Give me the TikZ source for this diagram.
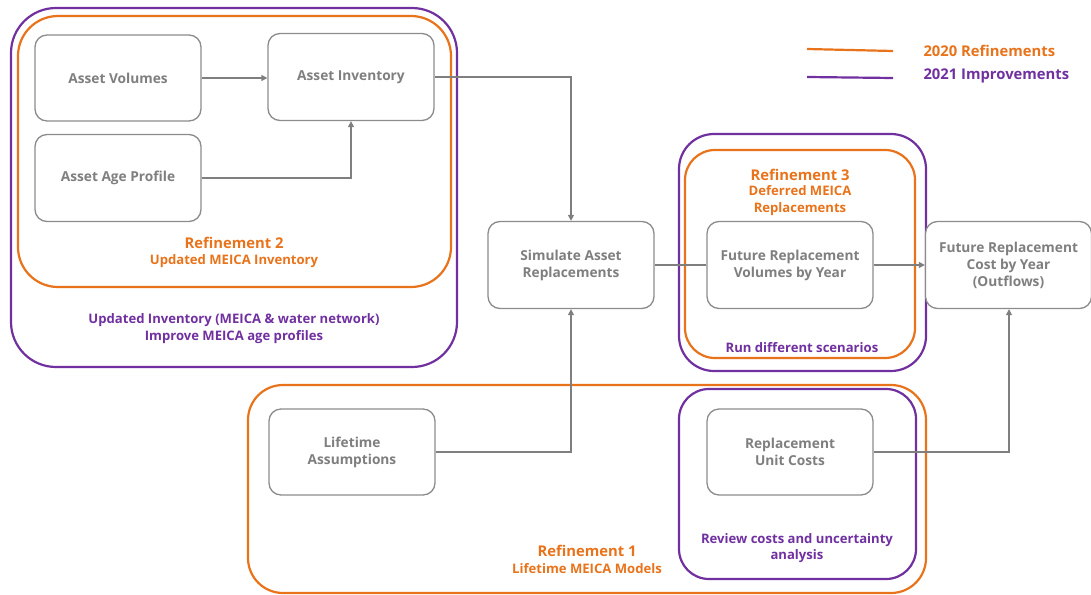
\documentclass[tikz,border=0pt]{standalone}
\usepackage{fontspec}
\setmainfont{Open Sans}
\usetikzlibrary{arrows.meta}
\definecolor{orng}{HTML}{E8731B}
\definecolor{purp}{HTML}{7030A0}
\definecolor{gbox}{HTML}{8C8C8C}
\definecolor{gtxt}{HTML}{7F7F7F}
\tikzset{
  box/.style={draw=gbox, line width=1.3pt, rounded corners=12pt, fill=white, text=gtxt,
    font=\fontsize{13.7}{17}\selectfont\bfseries, align=center, inner sep=0pt},
  orngrp/.style={draw=orng, line width=2.2pt},
  purgrp/.style={draw=purp, line width=2.2pt},
  conn/.style={draw=gtxt, line width=1.3pt},
  arr/.style={conn, -{Triangle[length=6pt,width=6pt]}},
  otitle/.style={text=orng, font=\fontsize{14.8}{17}\selectfont\bfseries, align=center},
  osub/.style={text=orng, font=\fontsize{13.1}{17}\selectfont\bfseries, align=center},
  ptxt/.style={text=purp, font=\fontsize{13.1}{17}\selectfont\bfseries, align=center},
}
\begin{document}
\begin{tikzpicture}[x=1pt,y=-1pt]
\useasboundingbox (0,0) rectangle (1091,594);
% group frames
\draw[purgrp, rounded corners=45pt] (11,8) rectangle (457,367);
\draw[orngrp, rounded corners=40pt] (18,16) rectangle (451,287);
\draw[purgrp, rounded corners=35pt] (679,134) rectangle (926,371);
\draw[orngrp, rounded corners=30pt] (685,150) rectangle (915,358);
\draw[orngrp, rounded corners=35pt] (248,385) rectangle (926,593);
\draw[purgrp, rounded corners=30pt] (679,389) rectangle (916,579);
% nodes
\node[box, minimum width=166pt, minimum height=86pt] (vol) at (118,78) {Asset Volumes};
\node[box, minimum width=166pt, minimum height=87pt] (inv) at (351,77) {\raisebox{-2pt}{Asset Inventory}};
\node[box, minimum width=166pt, minimum height=87pt] (age) at (118,178) {Asset Age Profile};
\node[box, minimum width=166pt, minimum height=87pt] (sim) at (571,265) {Simulate Asset\\Replacements};
\node[box, minimum width=166pt, minimum height=87pt] (fvol) at (790,265) {Future Replacement\\Volumes by Year};
\node[box, minimum width=166pt, minimum height=87pt] (fcost) at (1008.5,265) {Future Replacement\\Cost by Year\\(Outflows)};
\node[box, minimum width=166pt, minimum height=86pt] (life) at (352,452) {Lifetime\\Assumptions};
\node[box, minimum width=166pt, minimum height=86pt] (unit) at (790,452) {Replacement\\Unit Costs};
% connectors
\draw[arr] (vol.east) -- (inv.west |- vol.east);
\draw[arr] (age.east) -| (inv.south);
\draw[arr] (inv.east) -| (sim.north);
\draw[conn] (sim.east) -- (fvol.west);
\draw[arr] (fvol.east) -- (fcost.west);
\draw[arr] (life.east) -| (sim.south);
\coordinate (uc) at (1009,452);
\draw[arr] (unit.east) -- (uc) -- (fcost.south -| uc);
% labels
\node[otitle] (r2) at (234,243) {Refinement 2};
\node[osub] (r2s) at (234,261) {Updated MEICA Inventory};
\node[ptxt] (p2) at (234,329) {Updated Inventory (MEICA \& water network)\\Improve MEICA age profiles};
\node[otitle] (r3) at (800,175) {Refinement 3};
\node[osub] (r3s) at (800,201) {Deferred MEICA\\Replacements};
\node[ptxt] (p3) at (802,348) {Run different scenarios};
\node[otitle] (r1) at (587,551) {Refinement 1};
\node[osub] (r1s) at (587,569) {Lifetime MEICA Models};
\node[ptxt, font=\fontsize{13.1}{16}\selectfont\bfseries] (p1) at (797,548) {Review costs and uncertainty\\analysis};
% legend
\coordinate (lo1) at (807,49);
\coordinate (lo2) at (893,51);
\coordinate (lp1) at (807,77);
\coordinate (lp2) at (893,78);
\draw[orng, line width=2.2pt] (lo1) -- (lo2);
\draw[purp, line width=2.2pt] (lp1) -- (lp2);
\node[osub, font=\fontsize{14.8}{17}\selectfont\bfseries, anchor=west] (lg1) at (920,51) {2020 Refinements};
\node[ptxt, font=\fontsize{14.8}{17}\selectfont\bfseries, anchor=west] (lg2) at (920,76) {2021 Improvements};
\end{tikzpicture}
\end{document}
